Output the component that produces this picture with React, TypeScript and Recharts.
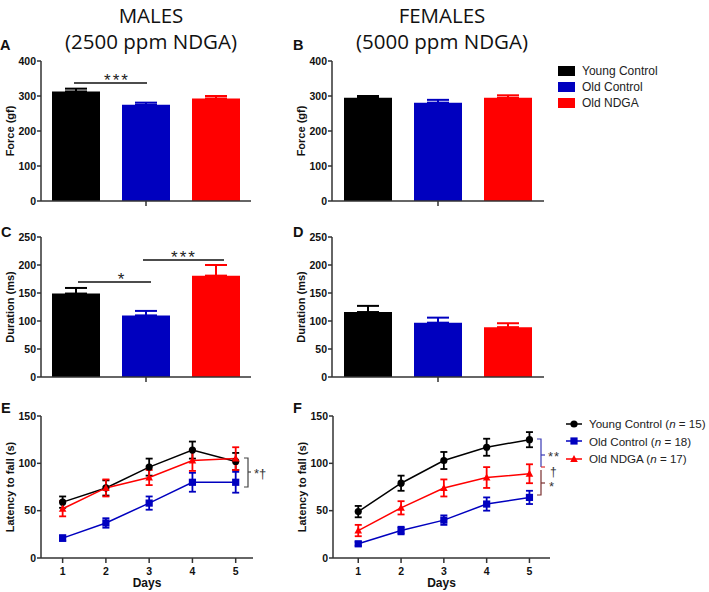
import { BarChart, Bar, ErrorBar, LineChart, Line, XAxis, YAxis } from "recharts"

const groupNames = ["Young Control", "Old Control", "Old NDGA"]
const groupKeys = ["young", "oldControl", "oldNdga"]
const groupColors = ["#000000", "#0000bf", "#ff0000"]
const groupN = [15, 18, 17]

// bar panels (mean, SEM)
const forceMales = [313, 275, 293]
const forceMalesErr = [8, 6, 7]
const forceFemales = [295, 281, 295]
const forceFemalesErr = [5, 8, 7]
const durationMales = [149, 110, 181]
const durationMalesErr = [10, 8, 19]
const durationFemales = [116, 97, 89]
const durationFemalesErr = [11, 9, 7]

const forceTicks = [0, 100, 200, 300, 400]
const durationTicks = [0, 50, 100, 150, 200, 250]

// rotarod panels
const days = [1, 2, 3, 4, 5]
const latencyTicks = [0, 50, 100, 150]
const maleYoung = [59, 74, 96, 114, 102]
const maleYoungErr = [6, 8, 9, 9, 9]
const maleOld = [21, 37, 58, 80, 80]
const maleOldErr = [3, 5, 7, 10, 11]
const maleNdga = [52, 74, 85, 103, 105]
const maleNdgaErr = [8, 9, 8, 11, 12]
const femaleYoung = [49, 79, 103, 117, 125]
const femaleYoungErr = [6, 8, 9, 9, 8]
const femaleOld = [15, 29, 40, 57, 64]
const femaleOldErr = [2, 4, 5, 7, 7]
const femaleNdga = [29, 53, 74, 85, 89]
const femaleNdgaErr = [6, 7, 9, 11, 10]

const FONT = "'Liberation Sans', Arial, sans-serif"
const AXIS = "#333"

function barRow(values: number[], errs: number[]) {
  const row: Record<string, any> = { name: "" }
  groupKeys.forEach((k, i) => {
    row[k] = values[i]
    row[k + "Err"] = [0, errs[i]]
  })
  return [row]
}

function lineRows(series: number[][], errs: number[][]) {
  return days.map((d, j) => {
    const row: Record<string, any> = { day: d }
    groupKeys.forEach((k, i) => {
      row[k] = series[i][j]
      row[k + "Err"] = errs[i][j]
    })
    return row
  })
}

const tickStyle = { fill: "#111", fontSize: 10.5, fontWeight: 700, fontFamily: FONT }
const labelStyle = { fill: "#111", fontSize: 11, fontWeight: 700, fontFamily: FONT, textAnchor: "middle" as const }

function BarPanel({ left, top, plotWidth, data, max, ticks, label }: any) {
  return (
    <div style={{ position: "absolute", left, top }}>
      <BarChart
        width={41 + plotWidth + 10}
        height={165}
        data={data}
        margin={{ top: 11, right: 10, bottom: 4, left: 0 }}
        barSize={48}
        barGap={22}
      >
        <XAxis
          dataKey="name"
          tickFormatter={() => ""}
          tickSize={5}
          height={10}
          axisLine={{ stroke: AXIS, strokeWidth: 1.5 }}
          tickLine={{ stroke: AXIS, strokeWidth: 1.5 }}
        />
        <YAxis
          width={41}
          domain={[0, max]}
          ticks={ticks}
          interval={0}
          tickSize={4}
          tickMargin={1}
          tick={tickStyle}
          axisLine={{ stroke: AXIS, strokeWidth: 1.5 }}
          tickLine={{ stroke: AXIS, strokeWidth: 1.5 }}
          label={{ value: label, angle: -90, position: "center", dx: -10, style: labelStyle }}
        />
        {groupKeys.map((k, i) => (
          <Bar key={k} dataKey={k} fill={groupColors[i]} isAnimationActive={false}>
            <ErrorBar dataKey={k + "Err"} width={11} stroke={groupColors[i]} strokeWidth={2} isAnimationActive={false} />
          </Bar>
        ))}
      </BarChart>
    </div>
  )
}

const CircleDot = (p: any) => (p.cx == null ? <g key={p.key} /> : <circle key={p.key} cx={p.cx} cy={p.cy} r={3.6} fill="#000" />)
const SquareDot = (p: any) =>
  p.cx == null ? <g key={p.key} /> : <rect key={p.key} x={p.cx - 3.6} y={p.cy - 3.6} width={7.2} height={7.2} fill="#0000bf" />
const TriangleDot = (p: any) =>
  p.cx == null ? (
    <g key={p.key} />
  ) : (
    <polygon key={p.key} points={`${p.cx},${p.cy - 4} ${p.cx - 3.8},${p.cy + 3} ${p.cx + 3.8},${p.cy + 3}`} fill="#ff0000" />
  )
const dotShapes = [CircleDot, SquareDot, TriangleDot]

function LinePanel({ left, top, plotWidth, data, domain }: any) {
  return (
    <div style={{ position: "absolute", left, top }}>
      <LineChart width={41 + plotWidth + 6} height={185} data={data} margin={{ top: 11, right: 6, bottom: 0, left: 0 }}>
        <XAxis
          type="number"
          dataKey="day"
          domain={domain}
          ticks={days}
          interval={0}
          allowDataOverflow
          height={32}
          tickSize={5}
          tickMargin={5}
          tick={tickStyle}
          axisLine={{ stroke: AXIS, strokeWidth: 1.5 }}
          tickLine={{ stroke: AXIS, strokeWidth: 1.5 }}
          label={{ value: "Days", position: "insideBottom", offset: 3, style: { ...labelStyle, fontSize: 12 } }}
        />
        <YAxis
          width={41}
          domain={[0, 150]}
          ticks={latencyTicks}
          interval={0}
          tickSize={4}
          tickMargin={1}
          tick={tickStyle}
          axisLine={{ stroke: AXIS, strokeWidth: 1.5 }}
          tickLine={{ stroke: AXIS, strokeWidth: 1.5 }}
          label={{ value: "Latency to fall (s)", angle: -90, position: "center", dx: -10, style: labelStyle }}
        />
        {groupKeys.map((k, i) => (
          <Line
            key={k}
            dataKey={k}
            stroke={groupColors[i]}
            strokeWidth={1.5}
            dot={dotShapes[i]}
            activeDot={false}
            isAnimationActive={false}
          >
            <ErrorBar dataKey={k + "Err"} direction="y" width={3.5} stroke={groupColors[i]} strokeWidth={1.8} isAnimationActive={false} />
          </Line>
        ))}
      </LineChart>
    </div>
  )
}

const textBase = { fontFamily: FONT, position: "absolute" as const, whiteSpace: "nowrap" as const, lineHeight: 1 }

export default function App() {
  const maleData = lineRows([maleYoung, maleOld, maleNdga], [maleYoungErr, maleOldErr, maleNdgaErr])
  const femaleData = lineRows([femaleYoung, femaleOld, femaleNdga], [femaleYoungErr, femaleOldErr, femaleNdgaErr])
  const letters: [string, number, number][] = [
    ["A", 0, 38],
    ["B", 293, 38],
    ["C", 1, 225],
    ["D", 293, 225],
    ["E", 1, 401],
    ["F", 293, 401],
  ]
  return (
    <div style={{ position: "absolute", left: 0, top: 0, width: 709, height: 592, background: "#fff", fontFamily: FONT }}>
      <BarPanel left={0} top={50} plotWidth={210} data={barRow(forceMales, forceMalesErr)} max={400} ticks={forceTicks} label="Force (gf)" />
      <BarPanel left={291} top={50} plotWidth={212} data={barRow(forceFemales, forceFemalesErr)} max={400} ticks={forceTicks} label="Force (gf)" />
      <BarPanel left={0} top={226} plotWidth={210} data={barRow(durationMales, durationMalesErr)} max={250} ticks={durationTicks} label="Duration (ms)" />
      <BarPanel left={291} top={226} plotWidth={212} data={barRow(durationFemales, durationFemalesErr)} max={250} ticks={durationTicks} label="Duration (ms)" />
      <LinePanel left={0} top={405} plotWidth={212} data={maleData} domain={[0.5, 5.4]} />
      <LinePanel left={292} top={405} plotWidth={217} data={femaleData} domain={[0.41, 5.48]} />

      {/* titles */}
      <div style={{ ...textBase, fontFamily: "'Open Sans', sans-serif", fontSize: 20.5, left: 1, width: 300, top: 2, textAlign: "center", lineHeight: "26px", color: "#111" }}>
        MALES
        <br />
        (2500 ppm NDGA)
      </div>
      <div style={{ ...textBase, fontFamily: "'Open Sans', sans-serif", fontSize: 20.5, left: 292, width: 300, top: 2, textAlign: "center", lineHeight: "26px", color: "#111" }}>
        FEMALES
        <br />
        (5000 ppm NDGA)
      </div>

      {letters.map(([t, x, y]) => (
        <div key={t} style={{ ...textBase, left: x, top: y, fontSize: 14.5, fontWeight: 700, color: "#111" }}>
          {t}
        </div>
      ))}

      {/* bar legend */}
      {groupNames.map((n, i) => (
        <div key={n} style={{ ...textBase, left: 558, top: 65 + i * 16, fontSize: 12, display: "flex", alignItems: "center", color: "#222" }}>
          <span style={{ display: "inline-block", width: 17, height: 10, background: groupColors[i], marginRight: 7 }} />
          {n}
        </div>
      ))}

      {/* line legend */}
      {groupNames.map((n, i) => (
        <div key={n} style={{ ...textBase, left: 566, top: 418 + i * 17.5, fontSize: 11.6, display: "flex", alignItems: "center", color: "#222" }}>
          <svg width={16} height={10} style={{ marginRight: 7 }}>
            <line x1={0} y1={5} x2={16} y2={5} stroke={groupColors[i]} strokeWidth={1.5} />
            {i === 0 && <circle cx={8} cy={5} r={3.6} fill="#000" />}
            {i === 1 && <rect x={4.4} y={1.4} width={7.2} height={7.2} fill="#0000bf" />}
            {i === 2 && <polygon points="8,1 4.2,8 11.8,8" fill="#ff0000" />}
          </svg>
          {n} (<i>n</i>&nbsp;= {groupN[i]})
        </div>
      ))}

      {/* significance annotations */}
      <svg width={709} height={592} style={{ position: "absolute", left: 0, top: 0, pointerEvents: "none" }}>
        <g stroke="#111" strokeWidth={1.5}>
          <line x1={74} y1={83} x2={147} y2={83} />
          <line x1={78} y1={282} x2={151} y2={282} />
          <line x1={143} y1={260} x2={224} y2={260} />
        </g>
        <g fontFamily={FONT} fontSize={17} fill="#222" textAnchor="middle">
          <text x={117} y={86} letterSpacing={2}>***</text>
          <text x={121} y={285}>*</text>
          <text x={184} y={263} letterSpacing={2}>***</text>
        </g>
        {/* E bracket */}
        <g stroke="#444" strokeWidth={1.2} fill="none">
          <polyline points="244,458 248,458 248,487 244,487" />
          <line x1={248} y1={472} x2={251} y2={472} />
        </g>
        <text x={254} y={478} fontFamily={FONT} fontSize={13} fill="#333">*†</text>
        {/* F brackets */}
        <g strokeWidth={1.2} fill="none">
          <polyline points="537,439 541,439 541,467" stroke="#3a3ab4" />
          <line x1={541} y1={455} x2={545} y2={455} stroke="#3a3ab4" />
          <line x1={541} y1={467} x2={545} y2={467} stroke="#e03030" />
          <polyline points="541,470 541,495 537,495" stroke="#7a3030" />
          <line x1={541} y1={483} x2={545} y2={483} stroke="#7a3030" />
        </g>
        <g fontFamily={FONT} fill="#333">
          <text x={548} y={461} fontSize={13} letterSpacing={1}>**</text>
          <text x={550} y={476} fontSize={12}>†</text>
          <text x={549} y={491} fontSize={13}>*</text>
        </g>
      </svg>
    </div>
  )
}
